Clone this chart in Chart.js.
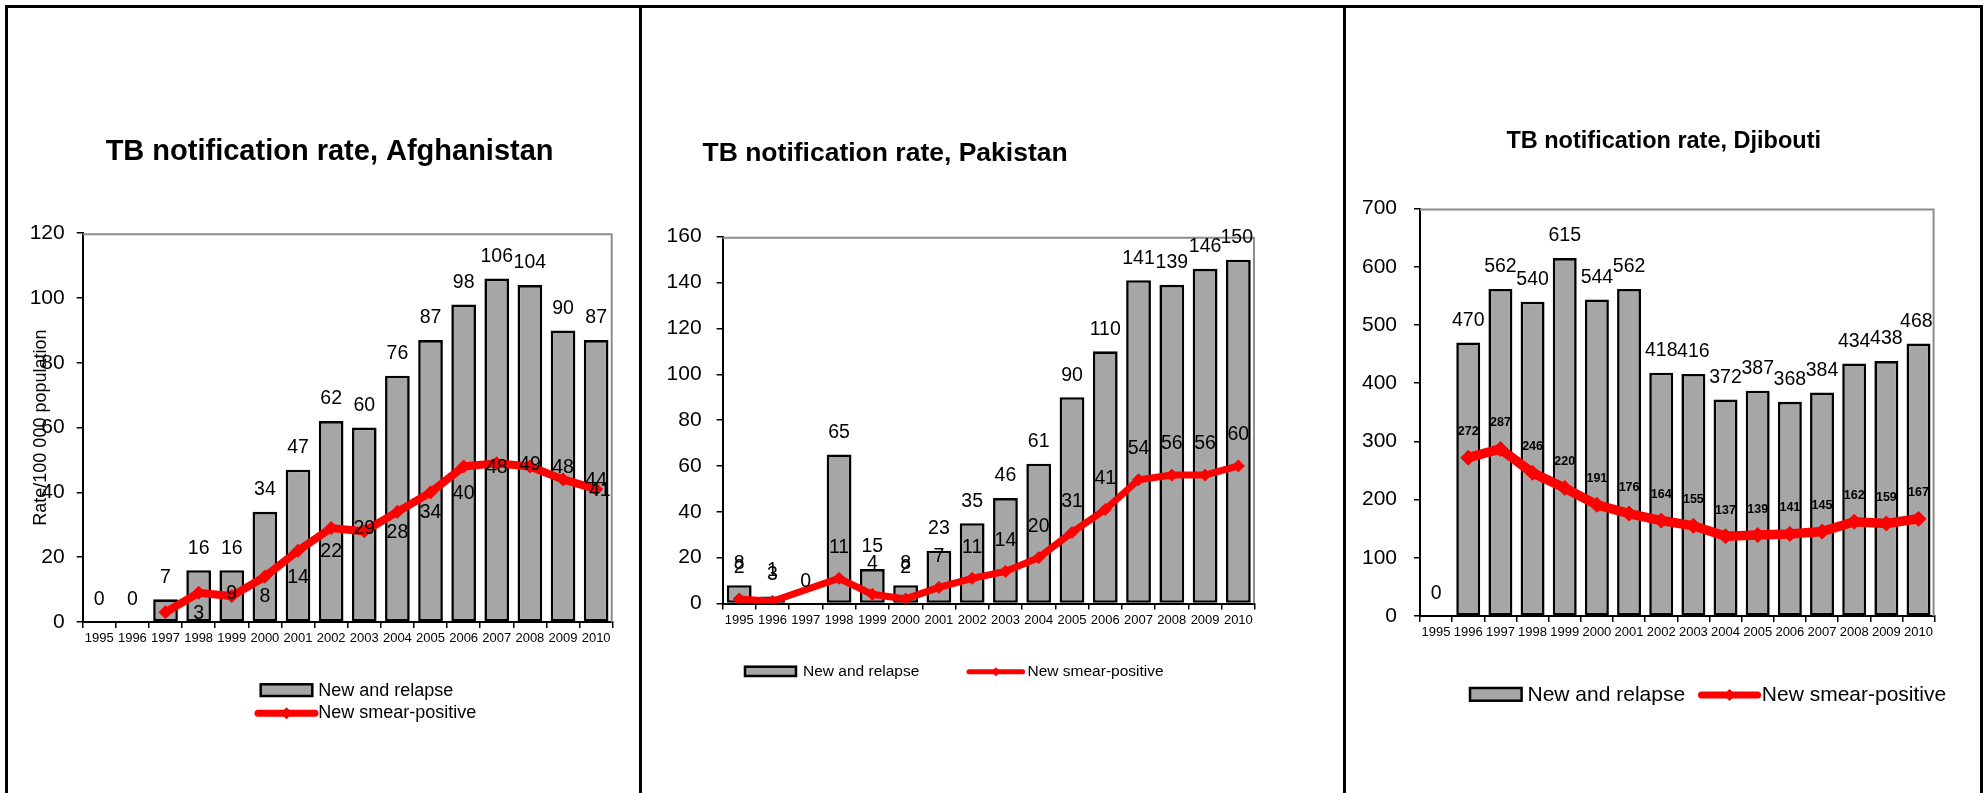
<!DOCTYPE html>
<html><head><meta charset="utf-8">
<script src="https://cdn.jsdelivr.net/npm/chart.js@4.4.0/dist/chart.umd.min.js"></script>
<style>
html,body{margin:0;padding:0;background:#fff;}
#page{position:relative;width:1986px;height:793px;overflow:hidden;background:#fff;}
.ln{position:absolute;background:#000;}
canvas{position:absolute;top:0;}
</style></head><body>
<div id="page">
<canvas id="c1" width="631" height="793" style="left:8px;width:631px;height:793px"></canvas>
<canvas id="c2" width="701" height="793" style="left:642px;width:701px;height:793px"></canvas>
<canvas id="c3" width="634" height="793" style="left:1346px;width:634px;height:793px"></canvas>
<div class="ln" style="left:5px;top:5px;width:1978px;height:3px"></div>
<div class="ln" style="left:5px;top:5px;width:3px;height:788px"></div>
<div class="ln" style="left:639px;top:5px;width:3px;height:788px"></div>
<div class="ln" style="left:1343px;top:5px;width:3px;height:788px"></div>
<div class="ln" style="left:1980px;top:5px;width:3px;height:788px"></div>
</div>
<script>
// ---------- data ----------
const years = ['1995','1996','1997','1998','1999','2000','2001','2002','2003','2004','2005','2006','2007','2008','2009','2010'];

const afgNewRelapse = [0,0,7,16,16,34,47,62,60,76,87,98,106,104,90,87];
const afgSmearPos   = [null,null,3,9,8,14,22,29,28,34,40,48,49,48,44,41];
const afgYTicks     = [0,20,40,60,80,100,120];

const pakNewRelapse = [8,3,0,65,15,8,23,35,46,61,90,110,141,139,146,150];
const pakSmearPos   = [2,1,null,11,4,2,7,11,14,20,31,41,54,56,56,60];
const pakYTicks     = [0,20,40,60,80,100,120,140,160];

const djiNewRelapse = [0,470,562,540,615,544,562,418,416,372,387,368,384,434,438,468];
const djiSmearPos   = [null,272,287,246,220,191,176,164,155,137,139,141,145,162,159,167];
const djiYTicks     = [0,100,200,300,400,500,600,700];

const seriesNames = ['New and relapse','New smear-positive'];
// --------------------------

const FONT = '"Liberation Sans", Arial, Helvetica, sans-serif';
Chart.defaults.font.family = FONT;
Chart.defaults.color = '#000';
const BAR_FILL = '#A6A6A6';
const RED = '#FF0000';

const panelPlugin = {
  id: 'panel',
  beforeDatasetsDraw(chart, args, o) {
    const {ctx, chartArea: a} = chart;
    ctx.save();
    ctx.strokeStyle = '#8C8C8C';
    ctx.lineWidth = 2;
    ctx.beginPath();
    ctx.moveTo(a.left, a.top + 1);
    ctx.lineTo(a.right - 1, a.top + 1);
    ctx.lineTo(a.right - 1, a.bottom);
    ctx.stroke();
    ctx.restore();
  },
  afterDatasetsDraw(chart) {
    const ctx = chart.ctx;
    const xs = chart.scales.x;
    chart.data.datasets.forEach((ds, di) => {
      const lab = ds.valueLabels;
      if (!lab) return;
      const meta = chart.getDatasetMeta(di);
      ctx.save();
      ctx.font = (lab.bold ? 'bold ' : '') + lab.size + 'px ' + FONT;
      ctx.fillStyle = '#000';
      ctx.textAlign = 'center';
      ctx.textBaseline = 'middle';
      const step = xs.getPixelForValue(1) - xs.getPixelForValue(0);
      meta.data.forEach((el, i) => {
        const v = ds.data[i];
        if (v === null || v === undefined) return;
        const txt = String(v);
        const w = ctx.measureText(txt).width;
        let x = el.x + step * (lab.shift || 0);
        x = Math.min(x, chart.chartArea.right - 2 - w / 2);
        ctx.fillText(txt, x, el.y + lab.dy);
      });
      ctx.restore();
    });
  },
  afterDraw(chart, args, o) {
    const ctx = chart.ctx;
    ctx.save();
    const t = o.title;
    ctx.font = 'bold ' + t.size + 'px ' + FONT;
    ctx.fillStyle = '#000';
    ctx.textAlign = t.align;
    ctx.textBaseline = 'alphabetic';
    ctx.fillText(t.text, t.x, t.y);
    const L = o.legend;
    ctx.font = L.size + 'px ' + FONT;
    ctx.textAlign = 'left';
    ctx.textBaseline = 'middle';
    const b = L.bar;
    ctx.fillStyle = BAR_FILL;
    ctx.fillRect(b.x0, b.y0, b.x1 - b.x0, b.y1 - b.y0);
    ctx.strokeStyle = '#000';
    ctx.lineWidth = 2.5;
    ctx.strokeRect(b.x0, b.y0, b.x1 - b.x0, b.y1 - b.y0);
    ctx.fillStyle = '#000';
    ctx.fillText(seriesNames[0], b.tx, b.ty);
    const l = L.line;
    ctx.strokeStyle = RED;
    ctx.lineWidth = l.lw;
    ctx.lineCap = 'round';
    ctx.beginPath();
    ctx.moveTo(l.x0, l.y);
    ctx.lineTo(l.x1, l.y);
    ctx.stroke();
    const mx = (l.x0 + l.x1) / 2, r = l.r;
    ctx.fillStyle = RED;
    ctx.beginPath();
    ctx.moveTo(mx, l.y - r); ctx.lineTo(mx + r, l.y); ctx.lineTo(mx, l.y + r); ctx.lineTo(mx - r, l.y);
    ctx.closePath(); ctx.fill();
    ctx.fillStyle = '#000';
    ctx.fillText(seriesNames[1], l.tx, l.ty);
    ctx.restore();
  }
};

function makeChart(id, cfg) {
  const yt = cfg.yTicks;
  const yScale = {
    min: yt[0], max: yt[yt.length - 1],
    afterBuildTicks: s => { s.ticks = yt.map(v => ({value: v})); },
    afterFit: s => { s.width = cfg.yWidth; },
    grid: {drawOnChartArea: false, drawTicks: true, tickLength: 6, color: '#000', lineWidth: 1.5},
    border: {display: true, color: '#000', width: 2},
    ticks: {font: {size: cfg.yFont}, color: '#000', padding: cfg.yPad},
    title: cfg.yTitle ? {display: true, text: cfg.yTitle, color: '#000', font: {size: 18}, padding: {top: cfg.yTitlePad, bottom: 0}} : {display: false}
  };
  return new Chart(document.getElementById(id), {
    data: {
      labels: years,
      datasets: [
        {
          type: 'line', label: seriesNames[1], data: cfg.line, order: 0,
          borderColor: RED, backgroundColor: RED, borderWidth: cfg.lw,
          pointStyle: 'rectRot', pointRadius: cfg.pr, pointBackgroundColor: RED, pointBorderColor: RED, pointBorderWidth: 1,
          spanGaps: true, tension: 0,
          valueLabels: cfg.lineLabels
        },
        {
          type: 'bar', label: seriesNames[0], data: cfg.bars, order: 1,
          backgroundColor: BAR_FILL, borderColor: '#000', borderWidth: 2.6, borderSkipped: false,
          categoryPercentage: 1.0, barPercentage: 0.745,
          valueLabels: {size: cfg.labFont, dy: -22, shift: 0}
        }
      ]
    },
    options: {
      responsive: false, animation: false, events: [],
      layout: {padding: cfg.pad},
      plugins: {legend: {display: false}, tooltip: {enabled: false}, title: {display: false},
        panel: {title: cfg.title, legend: cfg.legend}},
      scales: {
        x: {
          type: 'category', offset: true,
          afterFit: s => { s.height = 40; },
          grid: {offset: true, drawOnChartArea: false, drawTicks: true, tickLength: 6, color: '#000', lineWidth: 1.5},
          border: {display: true, color: '#000', width: 2},
          ticks: {autoSkip: false, maxRotation: 0, minRotation: 0, font: {size: cfg.xFont}, color: '#000', padding: 3}
        },
        y: yScale
      }
    },
    plugins: [panelPlugin]
  });
}

makeChart('c1', {
  bars: afgNewRelapse, line: afgSmearPos, yTicks: afgYTicks,
  yWidth: 66, yFont: 21, yPad: 12, xFont: 13, labFont: 19.5,
  yTitle: 'Rate/100 000 population', yTitlePad: 13.5,
  pad: {left: 8.7, right: 26.3, top: 233.2, bottom: 131},
  lw: 8, pr: 6.5,
  lineLabels: {size: 19.5, dy: 1, shift: 1},
  title: {text: 'TB notification rate, Afghanistan', x: 321.6, y: 160, size: 29, align: 'center'},
  legend: {size: 18,
    bar: {x0: 252.7, x1: 304.3, y0: 684.3, y1: 696, tx: 310.3, ty: 690.7},
    line: {x0: 250, x1: 307, y: 713.3, lw: 7, r: 6, tx: 310.3, ty: 713.3}}
});

makeChart('c2', {
  bars: pakNewRelapse, line: pakSmearPos, yTicks: pakYTicks,
  yWidth: 60, yFont: 21, yPad: 15, xFont: 13, labFont: 19.5,
  pad: {left: 20.6, right: 88, top: 236.7, bottom: 149.5},
  lw: 7, pr: 6,
  lineLabels: {size: 19.5, dy: -31, shift: 0},
  title: {text: 'TB notification rate, Pakistan', x: 60.5, y: 160.7, size: 26.5, align: 'left'},
  legend: {size: 15.5,
    bar: {x0: 103, x1: 154, y0: 666.7, y1: 676, tx: 161, ty: 671.7},
    line: {x0: 327, x1: 380.6, y: 671.7, lw: 5, r: 4.5, tx: 385.5, ty: 671.7}}
});

makeChart('c3', {
  bars: djiNewRelapse, line: djiSmearPos, yTicks: djiYTicks,
  yWidth: 60, yFont: 21, yPad: 17, xFont: 13, labFont: 19.5,
  pad: {left: 14, right: 45.4, top: 208.6, bottom: 137},
  lw: 9.5, pr: 7.5,
  lineLabels: {size: 12.5, dy: -26, shift: 0, bold: true},
  title: {text: 'TB notification rate, Djibouti', x: 317.7, y: 147.7, size: 23.5, align: 'center'},
  legend: {size: 21,
    bar: {x0: 124, x1: 175.6, y0: 688, y1: 700.7, tx: 181.5, ty: 695},
    line: {x0: 355.5, x1: 411.6, y: 695, lw: 7, r: 6, tx: 415.8, ty: 695}}
});
</script>
</body></html>
